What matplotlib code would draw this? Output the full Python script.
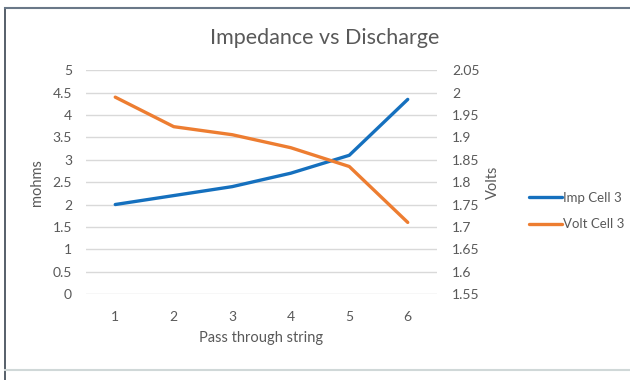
import matplotlib
matplotlib.use("Agg")
import matplotlib.pyplot as plt
from matplotlib.lines import Line2D

passes = [1, 2, 3, 4, 5, 6]
imp_cell3 = [2.0, 2.2, 2.4, 2.7, 3.1, 4.35]
volt_cell3 = [1.99, 1.924, 1.906, 1.877, 1.835, 1.71]
left_ticks = [0, 0.5, 1, 1.5, 2, 2.5, 3, 3.5, 4, 4.5, 5]
right_ticks = [1.55, 1.6, 1.65, 1.7, 1.75, 1.8, 1.85, 1.9, 1.95, 2.0, 2.05]

plt.rcParams['font.family'] = ['Lato', 'DejaVu Sans']
txt = '#595959'
grid = '#d9d9d9'
blue = '#1570be'
orange = '#ed7d31'

fig = plt.figure(figsize=(6.3, 3.8), dpi=100)
ax = fig.add_axes([86/630, 1-294/380, (437-86)/630, (294-70.3)/380])
ax2 = ax.twinx()

ax.set_xlim(0.5, 6.5)
ax.set_ylim(0, 5)
ax2.set_ylim(1.55, 2.05)
ax.set_yticks(left_ticks)
ax.set_yticklabels([f'{v:g}' for v in left_ticks])
ax2.set_yticks(right_ticks)
ax2.set_yticklabels([f'{v:g}' for v in right_ticks])
ax.set_xticks(passes)

for a in (ax, ax2):
    for s in a.spines.values():
        s.set_visible(False)
    a.tick_params(length=0, colors=txt, labelsize=10)
ax.tick_params(axis='y', pad=10)
ax.tick_params(axis='x', pad=12)
ax2.tick_params(axis='y', pad=11)

ax.grid(axis='y', color=grid, linewidth=1)
ax.set_axisbelow(True)

l1, = ax.plot(passes, imp_cell3, color=blue, lw=2.4, solid_capstyle='round', label='Imp Cell 3')
l2, = ax2.plot(passes, volt_cell3, color=orange, lw=2.4, solid_capstyle='round', label='Volt Cell 3')

ax.set_xlabel('Pass through string', color=txt, fontsize=10.5, labelpad=6)
ax.set_ylabel('mohms', color=txt, fontsize=10.5, labelpad=6)
ax2.set_ylabel('Volts', color=txt, fontsize=10.5, labelpad=4, rotation=90)

fig.text(325/630, 1-38/380, 'Impedance vs Discharge', ha='center', va='center',
         color=txt, fontsize=15.5)

fig.legend([l1, l2], ['Imp Cell 3', 'Volt Cell 3'], loc='center left',
           bbox_to_anchor=(529/630, 1-211/380), frameon=False, fontsize=9.5,
           handlelength=2.5, handletextpad=0.05, labelspacing=1.1,
           borderaxespad=0, borderpad=0, labelcolor=txt)

# chart border
fig.add_artist(Line2D([5/630, 5/630], [0, 1-8/380], transform=fig.transFigure, color='#3a4450', lw=1.2))
fig.add_artist(Line2D([5/630, 1], [1-8/380, 1-8/380], transform=fig.transFigure, color='#6a7888', lw=1.5))
fig.add_artist(Line2D([5/630, 1], [1-370/380, 1-370/380], transform=fig.transFigure, color='#d0d8d8', lw=1.5))

fig.savefig('out.png', dpi=100)
